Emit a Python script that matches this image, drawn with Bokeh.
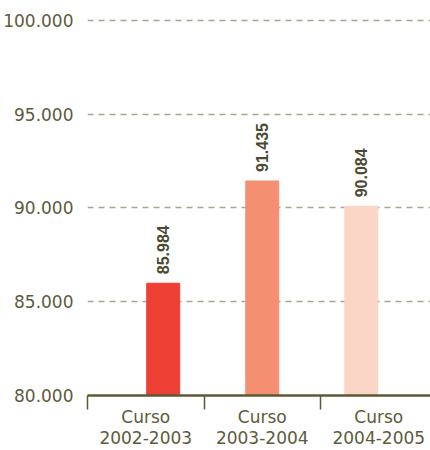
from math import pi
from bokeh.plotting import figure
from bokeh.models import (ColumnDataSource, Range1d, FixedTicker, LinearAxis)
from bokeh.core.properties import value
from bokeh.embed import file_html
from bokeh.resources import INLINE

# --- data ---
categories = ["Curso\n2002-2003", "Curso\n2003-2004", "Curso\n2004-2005"]
students = [85984, 91435, 90084]
bar_colors = ["#EE3F35", "#F48F72", "#FBD5C5"]
y_ticks = [80000, 85000, 90000, 95000, 100000]

n = len(categories)
centers = [i + 0.5 for i in range(n)]
spread = 0.85
bar_x = [n / 2 + (c - n / 2) * spread for c in centers]
labels = [f"{v:,}".replace(",", ".") for v in students]

src = ColumnDataSource(dict(x=bar_x, top=students, color=bar_colors, label=labels))

TXT = "#5d5b3c"
AX = "#5b5a35"

p = figure(width=430, height=450, output_backend="svg", toolbar_location=None,
           x_range=Range1d(0, 2.944), y_range=Range1d(80000, 100150),
           min_border_left=87, min_border_right=0, min_border_top=17,
           min_border_bottom=0)
p.outline_line_color = None
p.background_fill_color = "white"
p.border_fill_color = "white"

p.vbar(x="x", top="top", bottom=80000, width=0.283, color="color", source=src)
p.text(x="x", y="top", text="label", source=src, angle=pi / 2,
       text_align="left", text_baseline="middle", y_offset=-9,
       text_font=value("Liberation Sans"), text_font_style="bold",
       text_font_size="16px", text_color="#4a4a2e")

# y axis
p.yaxis.ticker = FixedTicker(ticks=y_ticks)
p.yaxis.major_label_overrides = {t: f"{t:,}".replace(",", ".") for t in y_ticks}
p.yaxis.axis_line_color = None
p.yaxis.major_tick_line_color = None
p.yaxis.minor_tick_line_color = None
p.yaxis.major_label_text_font = "DejaVu Sans"
p.yaxis.major_label_text_font_size = "17px"
p.yaxis.major_label_text_color = TXT
p.yaxis.major_label_standoff = 8

p.xgrid.grid_line_color = None
p.ygrid.ticker = FixedTicker(ticks=y_ticks[1:])
p.ygrid.grid_line_color = "#a9a48c"
p.ygrid.grid_line_dash = "6 5"
p.ygrid.grid_line_width = 1.5

# bottom axis 1: category boundary ticks
ax1 = p.xaxis[0]
ax1.ticker = FixedTicker(ticks=list(range(n + 1)))
ax1.major_label_overrides = {i: "" for i in range(n + 1)}
ax1.major_label_text_font_size = "0px"
ax1.major_label_standoff = 0
ax1.axis_line_color = AX
ax1.axis_line_width = 2.5
ax1.major_tick_line_color = AX
ax1.major_tick_line_width = 1.5
ax1.major_tick_in = 0
ax1.major_tick_out = 14
ax1.minor_tick_line_color = None

# bottom axis 2: category labels
ax2 = LinearAxis(ticker=FixedTicker(ticks=centers),
                 major_label_overrides=dict(zip(centers, categories)))
ax2.axis_line_color = None
ax2.major_tick_line_color = None
ax2.minor_tick_line_color = None
ax2.major_label_text_font = "DejaVu Sans"
ax2.major_label_text_font_size = "17px"
ax2.major_label_text_line_height = 1.05
ax2.major_label_text_color = TXT
ax2.major_label_standoff = -9
p.add_layout(ax2, "below")

open("out.html", "w").write(file_html(p, INLINE))
